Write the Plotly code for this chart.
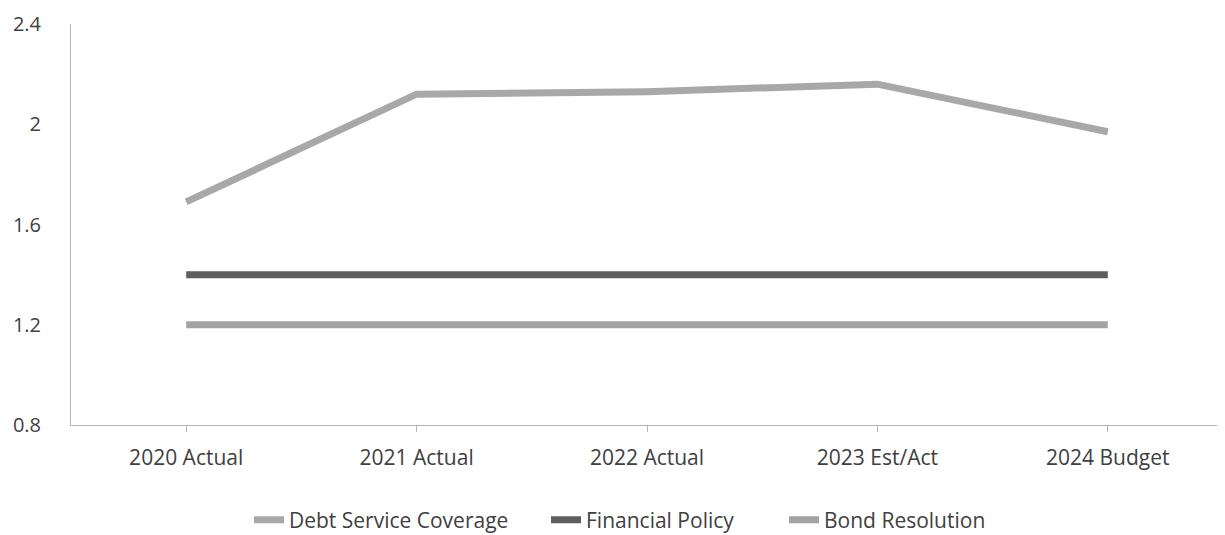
import plotly.graph_objects as go

categories = ["2020 Actual", "2021 Actual", "2022 Actual", "2023 Est/Act", "2024 Budget"]
debt_service_coverage = [1.69, 2.12, 2.13, 2.16, 1.97]
financial_policy = [1.40, 1.40, 1.40, 1.40, 1.40]
bond_resolution = [1.20, 1.20, 1.20, 1.20, 1.20]
y_ticks = [0.8, 1.2, 1.6, 2.0, 2.4]
y_tick_labels = ["0.8", "1.2", "1.6", "2", "2.4"]

fig = go.Figure()
fig.add_trace(go.Scatter(x=categories, y=debt_service_coverage, mode="lines",
                         name="Debt Service Coverage", line=dict(color="#a8a8a8", width=7),
                         legend="legend"))
fig.add_trace(go.Scatter(x=categories, y=financial_policy, mode="lines",
                         name="Financial Policy", line=dict(color="#5e5e5e", width=7),
                         legend="legend2"))
fig.add_trace(go.Scatter(x=categories, y=bond_resolution, mode="lines",
                         name="Bond Resolution", line=dict(color="#a3a3a3", width=7),
                         legend="legend3"))

font = dict(family="Open Sans, Liberation Sans, sans-serif", size=21, color="#404040")
legend_common = dict(orientation="h", xref="container", yref="container",
                     y=0.043, yanchor="middle", xanchor="left",
                     font=dict(size=21, color="#404040"), itemwidth=30,
                     bgcolor="rgba(0,0,0,0)")
fig.update_layout(
    width=1225, height=535,
    margin=dict(l=63, r=10, t=16, b=118),
    paper_bgcolor="white", plot_bgcolor="white",
    font=font,
    showlegend=True,
    legend=dict(x=0.1967, **legend_common),
    legend2=dict(x=0.4392, **legend_common),
    legend3=dict(x=0.6335, **legend_common),
)
fig.update_xaxes(type="category", range=[-0.5, 4.5], showgrid=False,
                 showline=True, linecolor="#b5b5b5", linewidth=1,
                 ticks="outside", ticklen=6, tickcolor="#b5b5b5",
                 tickfont=font, ticklabelstandoff=8, automargin=False)
fig.update_yaxes(range=[0.8, 2.4], tickvals=y_ticks, ticktext=y_tick_labels,
                 showgrid=False, zeroline=False, showline=True, linecolor="#b5b5b5",
                 linewidth=1, ticks="", tickfont=dict(font, size=20), ticklabelstandoff=25,
                 ticklabeloverflow="allow", automargin=False)

fig.write_html("out.html")
